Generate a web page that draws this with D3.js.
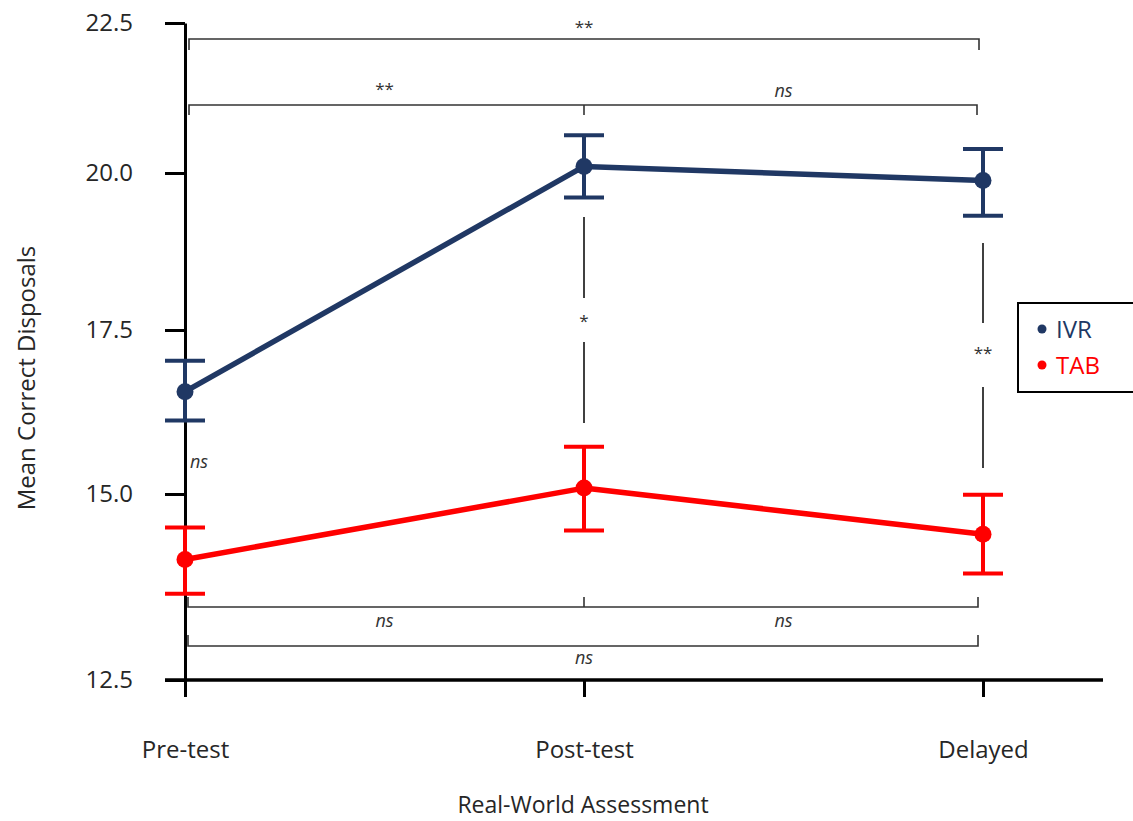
<!DOCTYPE html>
<html>
<head>
<meta charset="utf-8">
<script src="https://cdn.jsdelivr.net/npm/d3@7"></script>
<style>
  html, body { margin: 0; padding: 0; background: #fff; }
  svg { display: block; font-family: "Open Sans", sans-serif; }
</style>
</head>
<body>
<svg id="chart" width="1133" height="821"></svg>
<script>
// ---- data ----
const categories = ["Pre-test", "Post-test", "Delayed"];
const yTicks = [12.5, 15.0, 17.5, 20.0, 22.5];
const ivrMean  = [16.56, 20.11, 19.88];
const ivrUpper = [17.03, 20.63, 20.40];
const ivrLower = [16.12, 19.61, 19.32];
const tabMean  = [14.12, 15.09, 14.46];
const tabUpper = [14.55, 15.72, 14.99];
const tabLower = [13.66, 14.51, 13.93];
const seriesNames = ["IVR", "TAB"];
const seriesColors = ["#203864", "#ff0000"];

const svg = d3.select("#chart");

// ---- scales ----
const x = d3.scalePoint().domain(categories).range([185, 983]);
const y = d3.scaleLinear().domain(yTicks).range([680, 494, 330, 173, 23]);

const textColor = "#262626";

// ---- y axis ----
const yAxis = d3.axisLeft(y).tickValues(yTicks).tickFormat(d3.format(".1f"))
  .tickSize(20).tickSizeOuter(0).tickPadding(32);
const gy = svg.append("g").attr("transform", "translate(185,0)").call(yAxis);
gy.select(".domain").attr("stroke", "#000").attr("stroke-width", 3);
gy.selectAll(".tick line").attr("stroke", "#000").attr("stroke-width", 3);
gy.selectAll(".tick text").attr("font-size", 24).attr("fill", textColor)
  .attr("font-family", "Open Sans, sans-serif");

// ---- x axis ----
const xAxis = d3.axisBottom(x).tickSize(17).tickSizeOuter(0).tickPadding(44);
const gx = svg.append("g").attr("transform", "translate(0,680)").call(xAxis);
gx.select(".domain").remove();
gx.selectAll(".tick line").attr("stroke", "#000").attr("stroke-width", 3);
gx.selectAll(".tick text").attr("font-size", 24).attr("fill", textColor)
  .attr("font-family", "Open Sans, sans-serif");
svg.append("line").attr("x1", 165).attr("x2", 1103).attr("y1", 680).attr("y2", 680)
  .attr("stroke", "#000").attr("stroke-width", 3.5);

// axis titles
svg.append("text").attr("x", 583).attr("y", 813).attr("text-anchor", "middle")
  .attr("font-size", 23).attr("fill", textColor).text("Real-World Assessment");
svg.append("text").attr("transform", "translate(35,378) rotate(-90)")
  .attr("text-anchor", "middle").attr("font-size", 24).attr("fill", textColor)
  .text("Mean Correct Disposals");

// ---- significance brackets ----
const brColor = "#333";
const xs = c => x(c);
function bracket(x1, x2, yy, tickDir, mids) {
  const g = svg.append("g").attr("stroke", brColor).attr("stroke-width", 1.6).attr("fill", "none");
  g.append("path").attr("d", `M${x1},${yy + tickDir}V${yy}H${x2}V${yy + tickDir}`);
  (mids || []).forEach(m => g.append("line").attr("x1", m).attr("x2", m).attr("y1", yy).attr("y2", yy + tickDir));
}
function label(tx, ty, t, italic, size) {
  svg.append("text").attr("x", tx).attr("y", ty).attr("text-anchor", "middle")
    .attr("font-size", size || 18).attr("font-style", italic ? "italic" : "normal")
    .attr("fill", "#333").text(t);
}
// top
bracket(xs("Pre-test") + 4, xs("Delayed") - 4, 39, 11);
label(xs("Post-test"), 33, "**", false, 17);
bracket(xs("Pre-test") + 4, xs("Delayed") - 6, 105, 10, [xs("Post-test")]);
label((xs("Pre-test") + xs("Post-test")) / 2, 95, "**", false, 17);
label((xs("Post-test") + xs("Delayed")) / 2, 97, "ns", true, 18);
// bottom
bracket(xs("Pre-test") + 3, xs("Delayed") - 5, 607, -10, [xs("Post-test")]);
label((xs("Pre-test") + xs("Post-test")) / 2, 627, "ns", true, 18);
label((xs("Post-test") + xs("Delayed")) / 2, 627, "ns", true, 18);
bracket(xs("Pre-test") + 3, xs("Delayed") - 5, 646, -11);
label(xs("Post-test"), 664, "ns", true, 18);
// left ns
label(xs("Pre-test") + 14, 468, "ns", true, 18);
// vertical comparisons
function vcomp(cx, a1, a2, b1, b2, t, ty) {
  const g = svg.append("g").attr("stroke", "#000").attr("stroke-width", 1.5);
  g.append("line").attr("x1", cx).attr("x2", cx).attr("y1", a1).attr("y2", a2);
  g.append("line").attr("x1", cx).attr("x2", cx).attr("y1", b1).attr("y2", b2);
  label(cx, ty, t, false, 17);
}
vcomp(xs("Post-test"), 217, 298, 342, 423, "*", 327);
vcomp(xs("Delayed"), 243, 323, 387, 468, "**", 359);

// ---- series ----
const series = [
  { name: seriesNames[0], color: seriesColors[0], mean: ivrMean, up: ivrUpper, lo: ivrLower },
  { name: seriesNames[1], color: seriesColors[1], mean: tabMean, up: tabUpper, lo: tabLower }
];
const line = d3.line().x((d, i) => x(categories[i])).y(d => y(d));
series.forEach(s => {
  svg.append("path").datum(s.mean).attr("d", line).attr("fill", "none")
    .attr("stroke", s.color).attr("stroke-width", 5.5).attr("stroke-linejoin", "round");
  const g = svg.append("g").attr("stroke", s.color).attr("stroke-width", 4);
  categories.forEach((c, i) => {
    const cx = x(c);
    g.append("line").attr("x1", cx).attr("x2", cx).attr("y1", y(s.up[i])).attr("y2", y(s.lo[i]));
    g.append("line").attr("x1", cx - 20).attr("x2", cx + 20).attr("y1", y(s.up[i])).attr("y2", y(s.up[i]));
    g.append("line").attr("x1", cx - 20).attr("x2", cx + 20).attr("y1", y(s.lo[i])).attr("y2", y(s.lo[i]));
  });
  svg.append("g").selectAll("circle").data(s.mean).join("circle")
    .attr("cx", (d, i) => x(categories[i])).attr("cy", d => y(d)).attr("r", 8.5)
    .attr("fill", s.color);
});

// ---- legend ----
const lg = svg.append("g");
lg.append("rect").attr("x", 1018).attr("y", 303).attr("width", 130).attr("height", 89)
  .attr("fill", "#fff").attr("stroke", "#000").attr("stroke-width", 2);
series.forEach((s, i) => {
  lg.append("circle").attr("cx", 1042).attr("cy", 329 + i * 36).attr("r", 4.5).attr("fill", s.color);
  lg.append("text").attr("x", 1056).attr("y", 338 + i * 36).attr("font-size", 24)
    .attr("fill", s.color).text(s.name);
});
</script>
</body>
</html>
